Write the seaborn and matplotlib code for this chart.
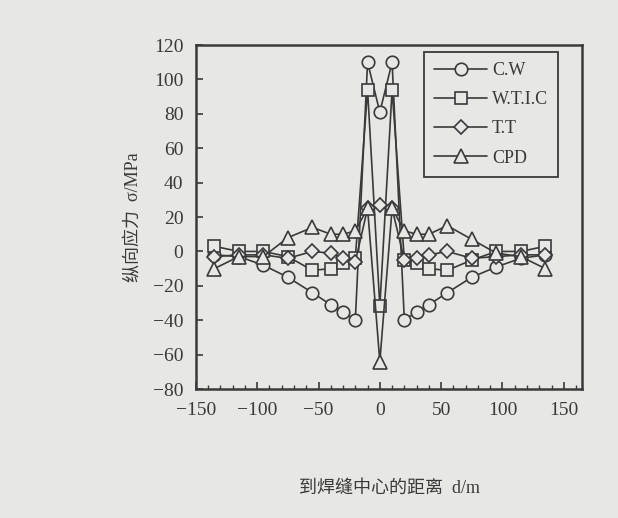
import numpy as np
import pandas as pd
import matplotlib
matplotlib.use("Agg")
import matplotlib.pyplot as plt
from matplotlib.ticker import MultipleLocator
import seaborn as sns

# distance from weld centre (m) and longitudinal stress (MPa)
d = [-135, -115, -95, -75, -55, -40, -30, -20, -10, 0, 10, 20, 30, 40, 55, 75, 95, 115, 135]
cw = [-2, -3, -8, -15, -24, -31, -35, -40, 110, 81, 110, -40, -35, -31, -24, -15, -9, -4, -2]
wtic = [3, 0, 0, -3, -11, -10, -7, -4, 94, -32, 94, -5, -7, -10, -11, -5, 0, 0, 3]
tt = [-3, -2, -2, -4, 0, -1, -4, -6, 25, 27, 25, -5, -4, -2, 0, -4, -3, -2, -2]
cpd = [-10, -3, -3, 8, 14, 10, 10, 12, 25, -64, 25, 12, 10, 10, 15, 7, -1, -3, -10]
series = ["C.W", "W.T.I.C", "T.T", "CPD"]
markers = ["o", "s", "D", "^"]

bg = "#e7e7e5"
ink = "#3a3a3a"

df = pd.concat([
    pd.DataFrame({"d": d, "stress": v, "series": name})
    for name, v in zip(series, [cw, wtic, tt, cpd])
], ignore_index=True)

sns.set_theme(style="ticks")
plt.rcParams["font.family"] = ["Liberation Serif", "Noto Sans CJK SC"]
plt.rcParams["text.color"] = ink
plt.rcParams["axes.labelcolor"] = ink
plt.rcParams["xtick.color"] = ink
plt.rcParams["ytick.color"] = ink

fig = plt.figure(figsize=(6.18, 5.18), dpi=100, facecolor=bg)
ax = fig.add_axes([0.317, 0.249, 0.625, 0.664])
ax.set_facecolor(bg)

sns.lineplot(data=df, x="d", y="stress", hue="series", style="series",
             markers=markers, dashes=False, palette=[ink] * 4, ax=ax,
             linewidth=1.2, markersize=9, markerfacecolor=bg,
             markeredgecolor=ink, markeredgewidth=1.2, legend=False)

for ln, m in zip(ax.lines, markers):
    if m == "D":
        ln.set_markersize(7)
    if m == "^":
        ln.set_markersize(9.5)

ax.set_xlim(-148, 165)
ax.set_ylim(-80, 120)
ax.set_xticks([-150, -100, -50, 0, 50, 100, 150])
ax.set_yticks(np.arange(-80, 121, 20))
ax.xaxis.set_minor_locator(MultipleLocator(10))
ax.tick_params(axis="both", which="major", direction="in", length=5, width=1.2,
               labelsize=14, pad=9)
ax.tick_params(axis="x", which="minor", direction="in", length=3, width=1)
for s in ax.spines.values():
    s.set_visible(True)
    s.set_color(ink)
    s.set_linewidth(1.8)

ax.set_xlabel("到焊缝中心的距离  d/m", fontsize=13, labelpad=44)
ax.set_ylabel("纵向应力  σ/MPa", fontsize=13, labelpad=8)

leg = ax.legend(handles=ax.lines[:4], labels=series, loc="upper right",
                bbox_to_anchor=(0.938, 0.98), borderaxespad=0, fontsize=13,
                frameon=True, fancybox=False, facecolor=bg, edgecolor=ink,
                framealpha=1, handlelength=2.9, labelspacing=0.68,
                borderpad=0.55, handletextpad=0.3)
leg.get_frame().set_linewidth(1.3)

fig.savefig("out.png", dpi=100, facecolor=bg)
